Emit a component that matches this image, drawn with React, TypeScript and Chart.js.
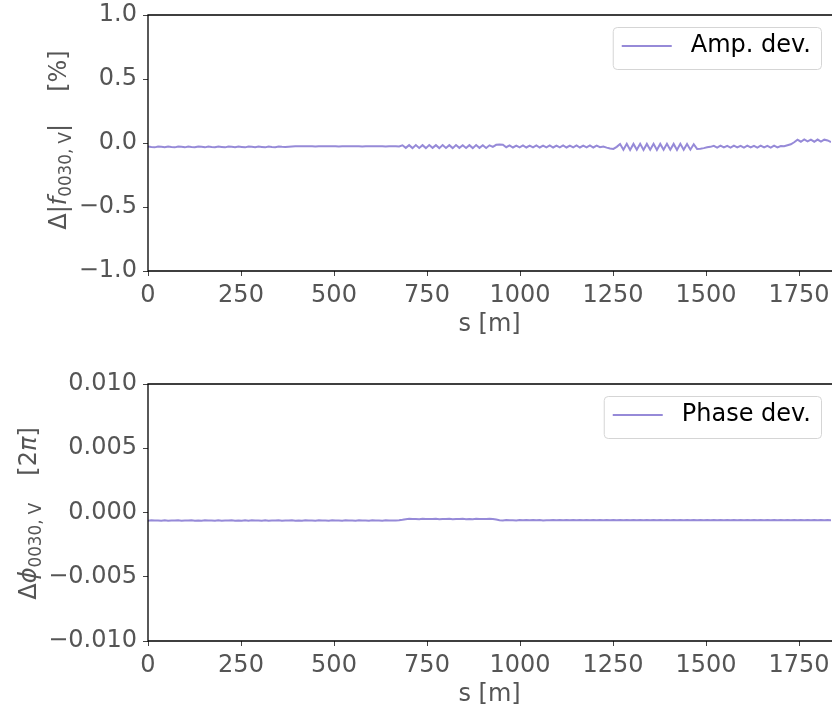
import React, { useEffect, useRef } from 'react';
import { Chart, registerables } from 'chart.js';

Chart.register(...registerables);

// Sampling grid along the ring (s in metres): 0, 9, 18, ... 1836
const S_MAX = 1836;
const S_STEP = 9;
const S = Array.from({ length: 205 }, (_, i) => i * S_STEP);

// Amplitude deviation [%]
const AMP_DEV = [
  -0.027, -0.031, -0.034, -0.028, -0.030, -0.033, -0.027, -0.031, -0.034, -0.028,
  -0.030, -0.034, -0.027, -0.031, -0.033, -0.028, -0.030, -0.034, -0.027, -0.031,
  -0.033, -0.028, -0.031, -0.034, -0.027, -0.030, -0.033, -0.028, -0.031, -0.034,
  -0.027, -0.030, -0.033, -0.028, -0.031, -0.034, -0.027, -0.031, -0.033, -0.028,
  -0.030, -0.031, -0.029,
  -0.027, -0.026, -0.025, -0.026, -0.026, -0.025, -0.026, -0.027, -0.026, -0.025,
  -0.026, -0.026, -0.025, -0.026, -0.027, -0.026, -0.025, -0.026, -0.026, -0.025,
  -0.026, -0.027, -0.026, -0.025, -0.026, -0.026, -0.025, -0.026, -0.027, -0.026,
  -0.025, -0.026, -0.027,
  -0.018, -0.038, -0.017, -0.040, -0.016, -0.039, -0.017, -0.040, -0.016, -0.038,
  -0.017, -0.040, -0.016, -0.039, -0.017, -0.040, -0.016, -0.038, -0.018, -0.039,
  -0.017, -0.040, -0.016, -0.038, -0.017, -0.039, -0.018, -0.030,
  -0.014, -0.011, -0.013,
  -0.033, -0.019, -0.035, -0.020, -0.034, -0.019, -0.035, -0.020, -0.034, -0.019,
  -0.035, -0.020, -0.034, -0.019, -0.035, -0.020, -0.034, -0.019, -0.035, -0.020,
  -0.034, -0.019, -0.035, -0.020, -0.034, -0.019, -0.035, -0.021, -0.033,
  -0.028, -0.036, -0.043, -0.046, -0.030,
  -0.008, -0.052, -0.006, -0.054, -0.007, -0.053, -0.006, -0.054, -0.007, -0.052,
  -0.006, -0.054, -0.007, -0.053, -0.006, -0.052, -0.007, -0.054, -0.006, -0.053,
  -0.007, -0.052, -0.010,
  -0.046, -0.044, -0.040, -0.034, -0.030,
  -0.022, -0.036, -0.021, -0.035, -0.022, -0.036, -0.021, -0.035, -0.022, -0.036,
  -0.021, -0.035, -0.022, -0.036, -0.021, -0.035, -0.022, -0.036, -0.021, -0.035,
  -0.024,
  -0.026, -0.018, -0.010, 0.006,
  0.026, 0.010, 0.028, 0.012, 0.026, 0.010, 0.027, 0.011, 0.026,
  0.020, 0.008,
];

// Phase deviation [2π]
const PHASE_DEV = [
  -0.00064, -0.00061, -0.00063, -0.00062, -0.00065, -0.00061, -0.00064, -0.00062, -0.00063, -0.00061,
  -0.00064, -0.00062, -0.00063, -0.00061, -0.00065, -0.00062, -0.00064, -0.00061, -0.00063, -0.00062,
  -0.00065, -0.00061, -0.00064, -0.00062, -0.00063, -0.00061, -0.00064, -0.00062, -0.00065, -0.00061,
  -0.00064, -0.00061, -0.00063, -0.00062, -0.00064, -0.00061, -0.00065, -0.00062, -0.00063, -0.00061,
  -0.00064, -0.00062, -0.00063, -0.00061, -0.00064, -0.00062, -0.00065, -0.00061, -0.00063, -0.00062,
  -0.00064, -0.00061, -0.00063, -0.00062, -0.00064, -0.00061, -0.00063, -0.00062, -0.00064, -0.00061,
  -0.00063, -0.00062, -0.00064, -0.00061, -0.00063, -0.00062, -0.00064, -0.00061, -0.00063, -0.00062,
  -0.00064, -0.00061, -0.00063, -0.00062, -0.00063, -0.00061,
  -0.00057,
  -0.00052, -0.00049, -0.00051, -0.00050, -0.00052, -0.00049, -0.00051, -0.00050, -0.00051, -0.00049,
  -0.00052, -0.00050, -0.00051, -0.00049, -0.00052, -0.00050, -0.00051, -0.00049, -0.00052, -0.00050,
  -0.00052, -0.00049, -0.00051, -0.00050, -0.00051, -0.00049, -0.00051,
  -0.00055, -0.00060,
  -0.00062, -0.00059, -0.00061, -0.00060, -0.00062, -0.00058, -0.00061, -0.00059, -0.00060, -0.00058,
  -0.00061, -0.00059, -0.00062, -0.00060, -0.00061, -0.00058, -0.00061, -0.00059, -0.00060, -0.00058,
  -0.00061, -0.00058, -0.00060, -0.00059, -0.00061, -0.00058, -0.00060, -0.00059, -0.00061, -0.00058,
  -0.00060, -0.00058, -0.00061, -0.00059, -0.00060, -0.00058, -0.00061, -0.00059, -0.00060, -0.00058,
  -0.00061, -0.00058, -0.00060, -0.00059, -0.00061, -0.00058, -0.00060, -0.00058, -0.00061, -0.00059,
  -0.00060, -0.00058, -0.00061, -0.00059, -0.00060, -0.00058, -0.00061, -0.00058, -0.00060, -0.00059,
  -0.00061, -0.00058, -0.00060, -0.00059, -0.00061, -0.00058, -0.00060, -0.00058, -0.00061, -0.00059,
  -0.00060, -0.00058, -0.00061, -0.00059, -0.00060, -0.00058, -0.00061, -0.00058, -0.00060, -0.00059,
  -0.00061, -0.00058, -0.00060, -0.00059, -0.00061, -0.00058, -0.00060, -0.00058, -0.00061, -0.00059,
  -0.00060, -0.00058, -0.00061, -0.00059, -0.00060, -0.00058, -0.00061, -0.00059, -0.00060,
];

const X_TICKS = [0, 250, 500, 750, 1000, 1250, 1500, 1750];
const AMP_TICKS = [-1, -0.5, 0, 0.5, 1];
const PHASE_TICKS = [-0.01, -0.005, 0, 0.005, 0.01];

const AMP_LEGEND = 'Amp. dev.';
const PHASE_LEGEND = 'Phase dev.';

const LINE_COLOR = '#968ad8';
const TEXT_GRAY = '#555555';
const FONT_FAMILY = '"DejaVu Sans", sans-serif';
const FONT_SIZE = 24;

type Seg = { t?: string; italic?: boolean; sub?: boolean; gap?: number };

const AMP_YLABEL: Seg[] = [
  { t: 'Δ|' },
  { t: 'f', italic: true },
  { t: '0030, V', sub: true },
  { t: '|' },
  { gap: 32 },
  { t: '[%]' },
];
const PHASE_YLABEL: Seg[] = [
  { t: 'Δ' },
  { t: 'ϕ', italic: true },
  { t: '0030, V', sub: true },
  { gap: 27 },
  { t: '[2' },
  { t: 'π', italic: true },
  { t: ']' },
];

function fmt(v: number, decimals: number) {
  const s = Math.abs(v).toFixed(decimals);
  return v < -1e-12 ? '\u2212' + s : s;
}

function drawRich(ctx: CanvasRenderingContext2D, segs: Seg[], cx: number, cy: number, size: number) {
  ctx.save();
  ctx.translate(cx, cy);
  ctx.rotate(-Math.PI / 2);
  const parts = segs.map((s) => {
    if (s.gap) return { ...s, w: s.gap, font: '', dy: 0 };
    const sz = s.sub ? size * 0.7 : size;
    const font = `${s.italic ? 'italic ' : ''}${sz}px ${FONT_FAMILY}`;
    ctx.font = font;
    return { ...s, font, w: ctx.measureText(s.t || '').width, dy: s.sub ? size * 0.22 : 0 };
  });
  const total = parts.reduce((a, p) => a + p.w, 0);
  let x = -total / 2;
  ctx.fillStyle = TEXT_GRAY;
  ctx.textBaseline = 'alphabetic';
  ctx.textAlign = 'left';
  for (const p of parts) {
    if (p.t) {
      ctx.font = p.font;
      ctx.fillText(p.t, x, p.dy);
    }
    x += p.w;
  }
  ctx.restore();
}

type PanelProps = {
  values: number[];
  yMin: number;
  yMax: number;
  yTicks: number[];
  decimals: number;
  legend: string;
  yLabel: Seg[];
  yLabelX: number;
  yLabelShift: number;
  top: number;
  height: number;
  plotTop: number;
  plotBottom: number;
};

function Panel(p: PanelProps) {
  const ref = useRef<HTMLCanvasElement | null>(null);
  useEffect(() => {
    if (!ref.current) return;
    const tickFont = { family: FONT_FAMILY, size: FONT_SIZE };
    const overlay = {
      id: 'overlay',
      afterDraw(chart: any) {
        const ctx: CanvasRenderingContext2D = chart.ctx;
        const ca = chart.chartArea;
        ctx.save();
        // spines
        ctx.strokeStyle = '#000';
        ctx.lineWidth = 1.3;
        ctx.beginPath();
        ctx.moveTo(ca.right + 2, ca.top);
        ctx.lineTo(ca.left, ca.top);
        ctx.lineTo(ca.left, ca.bottom);
        ctx.lineTo(ca.right + 2, ca.bottom);
        ctx.stroke();
        // legend
        ctx.font = `${FONT_SIZE}px ${FONT_FAMILY}`;
        const tw = ctx.measureText(p.legend).width;
        const right = ca.right - 10;
        const boxW = 9 + 50 + 19 + tw + 10;
        const left = right - boxW;
        const top = ca.top + 12;
        const h = 42;
        ctx.beginPath();
        (ctx as any).roundRect(left + 0.5, top + 0.5, boxW, h, 4);
        ctx.fillStyle = 'rgba(255,255,255,0.8)';
        ctx.fill();
        ctx.strokeStyle = '#d5d5d5';
        ctx.lineWidth = 1;
        ctx.stroke();
        ctx.strokeStyle = LINE_COLOR;
        ctx.lineWidth = 2;
        ctx.beginPath();
        ctx.moveTo(left + 9, top + 19);
        ctx.lineTo(left + 59, top + 19);
        ctx.stroke();
        ctx.fillStyle = '#000';
        ctx.textBaseline = 'middle';
        ctx.textAlign = 'left';
        ctx.fillText(p.legend, left + 78, top + 19);
        // x title
        ctx.fillStyle = TEXT_GRAY;
        ctx.textAlign = 'center';
        ctx.fillText('s [m]', (ca.left + ca.right) / 2, ca.bottom + 54);
        ctx.restore();
        // y title
        drawRich(ctx, p.yLabel, p.yLabelX, (ca.top + ca.bottom) / 2 + p.yLabelShift, FONT_SIZE);
      },
    };
    const chart = new Chart(ref.current, {
      type: 'line',
      data: {
        datasets: [
          {
            label: p.legend,
            data: S.map((x, i) => ({ x, y: p.values[i] })),
            borderColor: LINE_COLOR,
            backgroundColor: LINE_COLOR,
            borderWidth: 2,
            pointRadius: 0,
            tension: 0,
            fill: false,
          },
        ],
      },
      options: {
        animation: false,
        responsive: false,
        maintainAspectRatio: false,
        layout: { padding: { top: p.plotTop, right: 1, bottom: 0, left: 0 } },
        plugins: { legend: { display: false }, tooltip: { enabled: false } },
        scales: {
          x: {
            type: 'linear',
            min: 0,
            max: S_MAX,
            afterBuildTicks: (s: any) => {
              s.ticks = X_TICKS.map((v) => ({ value: v }));
            },
            afterFit: (s: any) => {
              s.height = p.height - p.plotBottom;
              s.paddingLeft = 0;
              s.paddingRight = 0;
            },
            ticks: {
              font: tickFont,
              color: TEXT_GRAY,
              padding: 5,
              maxRotation: 0,
              autoSkip: false,
              callback: (v: any) => String(v),
            },
            grid: { drawOnChartArea: false, drawTicks: true, tickLength: 5, color: '#444', lineWidth: 1 },
            border: { display: false },
          },
          y: {
            type: 'linear',
            min: p.yMin,
            max: p.yMax,
            afterBuildTicks: (s: any) => {
              s.ticks = p.yTicks.map((v) => ({ value: v }));
            },
            afterFit: (s: any) => {
              s.width = 148;
              s.paddingTop = 0;
              s.paddingBottom = 0;
            },
            ticks: {
              font: tickFont,
              color: TEXT_GRAY,
              padding: 6,
              autoSkip: false,
              callback: (v: any) => fmt(Number(v), p.decimals),
            },
            grid: { drawOnChartArea: false, drawTicks: true, tickLength: 5, color: '#444', lineWidth: 1 },
            border: { display: false },
          },
        },
      },
      plugins: [overlay],
    } as any);
    return () => chart.destroy();
  }, []);
  return (
    <canvas
      ref={ref}
      width={832}
      height={p.height}
      style={{ position: 'absolute', left: 0, top: p.top, width: 832, height: p.height, display: 'block' }}
    />
  );
}

export default function App() {
  useEffect(() => {
    document.body.style.margin = '0';
  }, []);
  return (
    <div style={{ position: 'relative', width: 832, height: 708, background: '#fff', overflow: 'hidden' }}>
      <Panel
        values={AMP_DEV}
        yMin={-1}
        yMax={1}
        yTicks={AMP_TICKS}
        decimals={1}
        legend={AMP_LEGEND}
        yLabel={AMP_YLABEL}
        yLabelX={66}
        yLabelShift={-3}
        top={0}
        height={354}
        plotTop={15}
        plotBottom={271}
      />
      <Panel
        values={PHASE_DEV}
        yMin={-0.01}
        yMax={0.01}
        yTicks={PHASE_TICKS}
        decimals={3}
        legend={PHASE_LEGEND}
        yLabel={PHASE_YLABEL}
        yLabelX={36}
        yLabelShift={1}
        top={354}
        height={354}
        plotTop={30}
        plotBottom={287}
      />
    </div>
  );
}
